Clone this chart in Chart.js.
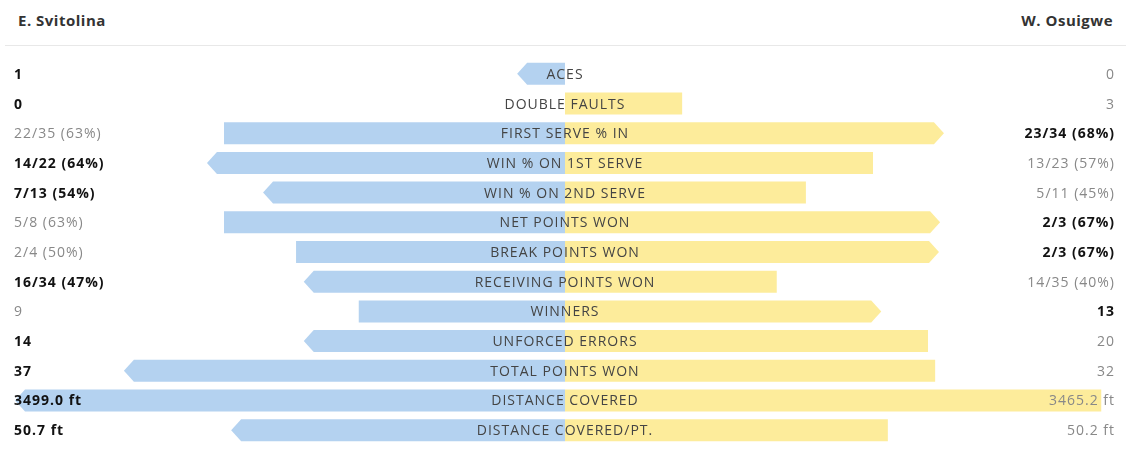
<!DOCTYPE html>
<html>
<head>
<meta charset="utf-8">
<script src="https://cdn.jsdelivr.net/npm/chart.js@4"></script>
<style>
  body { margin: 0; background: #fff; font-family: "Open Sans", sans-serif; }
  .head { position: relative; height: 45px; margin: 0 6px 0 5px; border-bottom: 1px solid #e8e8e8; }
  .head span { position: absolute; top: 10px; font-weight: bold; font-size: 15px; color: #333; letter-spacing: 0.5px; }
  .head .l { left: 13px; }
  .head .r { right: 13px; }
  .wrap { position: relative; width: 1132px; height: 405px; }
</style>
</head>
<body>
<div class="head"><span class="l">E. Svitolina</span><span class="r">W. Osuigwe</span></div>
<div class="wrap"><canvas id="chart"></canvas></div>
<script>
// rows
const stats = ['ACES', 'DOUBLE FAULTS', 'FIRST SERVE % IN', 'WIN % ON 1ST SERVE', 'WIN % ON 2ND SERVE',
  'NET POINTS WON', 'BREAK POINTS WON', 'RECEIVING POINTS WON', 'WINNERS', 'UNFORCED ERRORS',
  'TOTAL POINTS WON', 'DISTANCE COVERED', 'DISTANCE COVERED/PT.'];

// shown values
const svitolinaText = ['1', '0', '22/35 (63%)', '14/22 (64%)', '7/13 (54%)', '5/8 (63%)', '2/4 (50%)',
  '16/34 (47%)', '9', '14', '37', '3499.0 ft', '50.7 ft'];
const osuigweText = ['0', '3', '23/34 (68%)', '13/23 (57%)', '5/11 (45%)', '2/3 (67%)', '2/3 (67%)',
  '14/35 (40%)', '13', '20', '32', '3465.2 ft', '50.2 ft'];

// bar lengths (share of the half width)
const svitolinaBar = [8.7, 0, 62.0, 65.1, 54.9, 62.0, 48.9, 47.5, 37.5, 47.5, 80.2, 100, 60.7];
const osuigweBar = [0, 21.3, 68.9, 56.0, 43.8, 68.2, 68.0, 38.5, 57.5, 66.0, 67.3, 97.5, 58.7];

// who leads each row: 'L' = Svitolina, 'R' = Osuigwe
const leader = ['L', 'L', 'R', 'L', 'L', 'R', 'R', 'L', 'R', 'L', 'L', 'L', 'L'];

const ctx = document.querySelector('#chart');

const arrowBars = {
  id: 'arrowBars',
  beforeDatasetDraw(chart, args) {
    const c = chart.ctx;
    const side = args.index === 0 ? 'L' : 'R';
    c.save();
    c.fillStyle = chart.data.datasets[args.index].backgroundColor;
    args.meta.data.forEach((el, i) => {
      const p = el.getProps(['x', 'y', 'base', 'height'], true);
      if (Math.abs(p.x - p.base) < 0.5) return;
      const top = p.y - p.height / 2, bot = p.y + p.height / 2;
      const dir = p.x < p.base ? -1 : 1;
      c.beginPath();
      c.moveTo(p.base, top);
      if (leader[i] === side) {
        const tip = 10;
        c.lineTo(p.x - dir * tip, top);
        c.lineTo(p.x, p.y);
        c.lineTo(p.x - dir * tip, bot);
      } else {
        c.lineTo(p.x, top);
        c.lineTo(p.x, bot);
      }
      c.lineTo(p.base, bot);
      c.closePath();
      c.fill();
    });
    c.restore();
    return false;
  },
  afterDatasetsDraw(chart) {
    const c = chart.ctx;
    const xs = chart.scales.x, ys = chart.scales.y;
    const mid = xs.getPixelForValue(0);
    c.save();
    c.textBaseline = 'middle';
    c.letterSpacing = '1px';
    stats.forEach((s, i) => {
      const y = ys.getPixelForValue(i) + 1;
      c.font = '14px "Open Sans"';
      c.fillStyle = '#444';
      c.textAlign = 'center';
      c.fillText(s, mid, y);
      const lw = leader[i] === 'L';
      c.textAlign = 'left';
      c.font = (lw ? 'bold ' : '') + '14px "Open Sans"';
      c.fillStyle = lw ? '#111' : '#888';
      c.fillText(svitolinaText[i], 14, y);
      c.textAlign = 'right';
      c.font = (!lw ? 'bold ' : '') + '14px "Open Sans"';
      c.fillStyle = !lw ? '#111' : '#888';
      c.fillText(osuigweText[i], 1115, y);
    });
    c.restore();
  }
};

new Chart(ctx, {
  type: 'bar',
  data: {
    labels: stats,
    datasets: [
      { label: 'E. Svitolina', data: svitolinaBar.map(v => -v), backgroundColor: '#b4d2f0' },
      { label: 'W. Osuigwe', data: osuigweBar, backgroundColor: '#fdec9b' }
    ]
  },
  options: {
    indexAxis: 'y',
    responsive: true,
    maintainAspectRatio: false,
    animation: false,
    barThickness: 22,
    layout: { padding: { left: 15, right: 17, top: 13, bottom: 6 } },
    plugins: { legend: { display: false }, tooltip: { enabled: false } },
    scales: {
      x: { stacked: true, min: -100, max: 100, display: false },
      y: { stacked: true, display: false }
    }
  },
  plugins: [arrowBars]
});
</script>
</body>
</html>
